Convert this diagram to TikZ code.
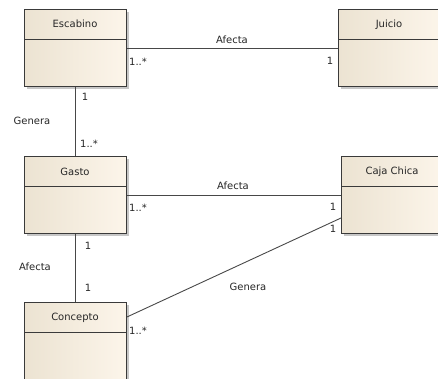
\documentclass[tikz,border=0pt]{standalone}
\usepackage{fontspec}
\setmainfont{DejaVu Sans}
\usetikzlibrary{calc,shadows}
\definecolor{boxleft}{HTML}{ECE3D2}
\definecolor{boxright}{HTML}{FCF5EA}
\definecolor{edge}{HTML}{3A3A3A}
\definecolor{wire}{HTML}{484848}
\begin{document}
\begin{tikzpicture}[x=1pt,y=-1pt,
  every node/.style={font=\fontsize{10}{12}\selectfont, text=black!85, inner sep=0pt},
  classbox/.style={draw=edge, line width=0.9pt, left color=boxleft, right color=boxright,
    minimum width=102pt, minimum height=77pt, anchor=north west,
    drop shadow={shadow xshift=3pt, shadow yshift=-3pt, fill=black!22, opacity=1}},
  assoc/.style={draw=wire, line width=0.9pt},
  lbl/.style={anchor=center}]
\useasboundingbox (0,0) rectangle (438,378);

% classes
\node[classbox] (esc) at (24,9) {};
\node[classbox] (jui) at (338,9) {};
\node[classbox] (gas) at (24,156) {};
\node[classbox] (caj) at (341,156) {};
\node[classbox] (con) at (24,302) {};

% compartment separators
\foreach \c in {esc,jui,gas,caj,con}
  \draw[draw=edge, line width=0.9pt] ($(\c.north west)+(0,30)$) -- ($(\c.north east)+(0,30)$);

% class names
\node[lbl] (nEsc) at (75,24) {Escabino};
\node[lbl] (nJui) at (389,25) {Juicio};
\node[lbl] (nGas) at (75,172) {Gasto};
\node[lbl] (nCaj) at (392,172) {Caja Chica};
\node[lbl] (nCon) at (75,318) {Concepto};

% associations
\coordinate (cajLow) at ($(caj.north west)+(0,62)$);
\coordinate (conMid) at ($(con.north east)+(0,15)$);
\draw[assoc] (esc.east) -- (esc.east -| jui.west);
\draw[assoc] (esc.south) -- (gas.north);
\draw[assoc] (gas.east) -- (gas.east -| caj.west);
\draw[assoc] (gas.south) -- (con.north);
\draw[assoc] (conMid) -- (cajLow);

% association names
\node[lbl] at (232,40) {Afecta};
\node[lbl] at (32,121) {Genera};
\node[lbl] at (233,186) {Afecta};
\node[lbl] at (35,267) {Afecta};
\node[lbl] at (248,287) {Genera};

% multiplicities
\node[lbl] at (138,62) {1..*};
\node[lbl] at (330,61) {1};
\node[lbl] at (85,97) {1};
\node[lbl] at (89,144) {1..*};
\node[lbl] at (138,208) {1..*};
\node[lbl] at (333,207) {1};
\node[lbl] at (333,229) {1};
\node[lbl] at (88,246) {1};
\node[lbl] at (88,288) {1};
\node[lbl] at (138,331) {1..*};
\end{tikzpicture}
\end{document}
